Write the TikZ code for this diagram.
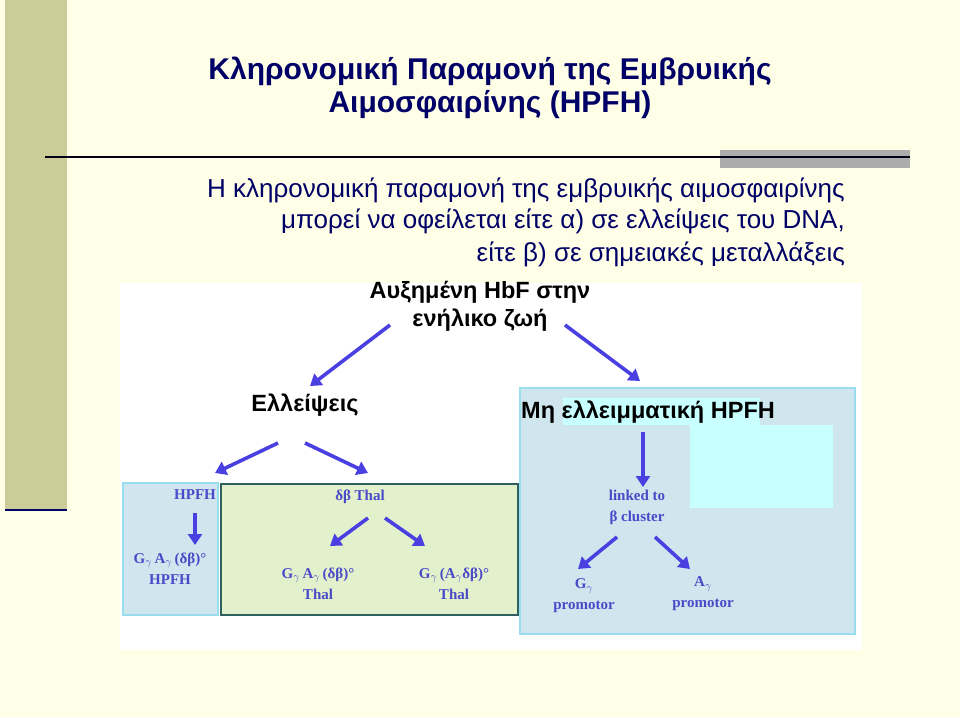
\documentclass[tikz,border=0pt]{standalone}
\usepackage{fontspec}
\setmainfont{Liberation Sans}
\newfontfamily\srf{Liberation Serif}
\usetikzlibrary{arrows.meta}
\definecolor{cream}{HTML}{FFFFE8}
\definecolor{olive}{HTML}{CCCC99}
\definecolor{navy}{HTML}{000066}
\definecolor{arr}{HTML}{4A3FE0}
\definecolor{txtb}{HTML}{4A4AC8}
\definecolor{lblue}{HTML}{CFE6EE}
\definecolor{lbord}{HTML}{99DDEE}
\definecolor{lgreen}{HTML}{E2F0CC}
\definecolor{teal}{HTML}{2F5F5F}
\definecolor{cyanbox}{HTML}{C8FFFF}
\begin{document}
\begin{tikzpicture}[x=1pt,y=-1pt,
  ar/.style={arr,line width=3.6pt,-{Triangle[length=11pt,width=14pt]}},
  lab/.style={font=\bfseries\fontsize{23.5}{28}\selectfont,text=black,inner sep=0},
  ser/.style={font=\srf\bfseries\fontsize{15}{21}\selectfont,text=txtb,inner sep=0,align=center},
  body/.style={font=\fontsize{26}{30}\selectfont,text=navy,inner sep=0}]
\useasboundingbox (0,0) rectangle (960,717);
\fill[cream] (0,0) rectangle (960,717);
\fill[olive] (5,0) rectangle (67,510);
\draw[navy,line width=2pt] (5,510) -- (67,510);
\fill[gray!65] (720,150) rectangle (910,168);
\draw[black!80!navy,line width=2pt] (45,157) -- (910,157);
\node[font=\bfseries\fontsize{30}{33}\selectfont,text=navy,align=center] (title) at (490,88) {Κληρονομική Παραμονή της Εμβρυικής\\Αιμοσφαιρίνης (HPFH)};
\node[body,anchor=east] (b1) at (845,190) {Η κληρονομική παραμονή της εμβρυικής αιμοσφαιρίνης};
\node[body,anchor=east] (b2) at (845,221) {μπορεί να οφείλεται είτε α) σε ελλείψεις του DNA,};
\node[body,anchor=east] (b3) at (845,254) {είτε β) σε σημειακές μεταλλάξεις};
\fill[white] (120,283) rectangle (862,650);
% boxes
\draw[lbord,fill=lblue,line width=2pt] (123,483) rectangle (218,615);
\draw[teal,fill=lgreen,line width=2.5pt] (221,484) rectangle (518,615);
\draw[lbord,fill=lblue,line width=2pt] (520,388) rectangle (855,634);
\fill[cyanbox] (690,425) rectangle (833,508);
\fill[cyanbox] (563,398) rectangle (760,425);
% labels
\node[lab] (top1) at (480,292) {Αυξημένη HbF στην};
\node[lab] (top2) at (480,320) {ενήλικο ζωή};
\node[lab] (ell) at (305,405) {Ελλείψεις};
\node[lab,anchor=west] (meh) at (521,412) {Μη ελλειμματική HPFH};
\node[ser] (h1) at (195,495) {HPFH};
\node[ser] (h2) at (170,569) {G$_\gamma$\,A$_\gamma$\,(δβ)°\\HPFH};
\node[ser] (d1) at (360,497) {δβ Thal};
\node[ser] (d2) at (318,584) {G$_\gamma$\,A$_\gamma$\,(δβ)°\\Thal};
\node[ser] (d3) at (454,584) {G$_\gamma$\,(A$_\gamma$δβ)°\\Thal};
\node[ser] (l1) at (637,507) {linked to\\β cluster};
\node[ser] (p1) at (584,596) {G$_\gamma$\\promotor};
\node[ser] (p2) at (703,594) {A$_\gamma$\\promotor};
% arrows
\coordinate (a1s) at (390,325); \coordinate (a1e) at (310,386);
\coordinate (a2s) at (565,325); \coordinate (a2e) at (640,381);
\draw[ar] (a1s) -- (a1e);
\draw[ar] (a2s) -- (a2e);
\draw[ar] (278,443) -- (215,473);
\draw[ar] (305,443) -- (368,473);
\draw[ar] (h1) ++(0,18) -- ++(0,32);
\draw[ar] (368,518) -- (330,546);
\draw[ar] (385,518) -- (425,546);
\draw[ar] (643,432) -- (643,487);
\draw[ar] (617,537) -- (578,569);
\draw[ar] (655,537) -- (690,569);
\end{tikzpicture}
\end{document}
